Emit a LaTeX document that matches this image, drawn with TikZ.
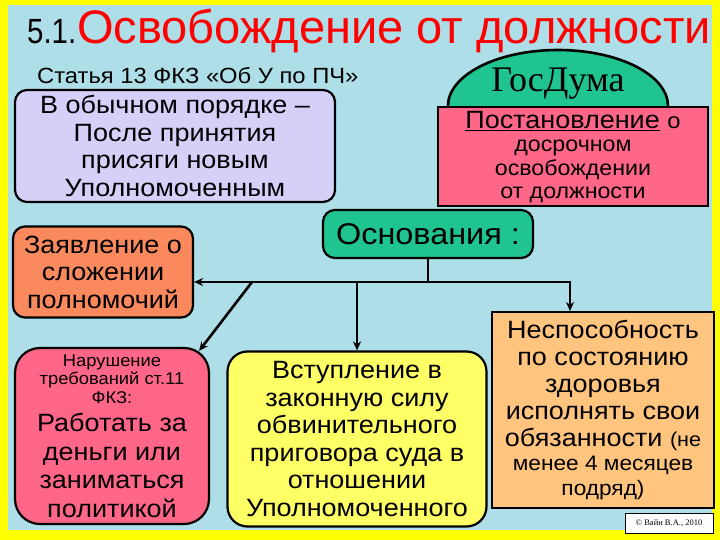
\documentclass[tikz,border=0pt]{standalone}
\usepackage{fontspec}
\setmainfont{Liberation Sans}[FakeStretch=1.08]
\newfontfamily\plainsans{Liberation Sans}
\newfontfamily\dumafont{Liberation Serif}
\usetikzlibrary{positioning,arrows.meta,shapes.geometric}
\definecolor{frameyellow}{HTML}{FFFF00}
\definecolor{waterblue}{HTML}{AEDEE8}
\definecolor{lavender}{HTML}{D4D0F8}
\definecolor{dumagreen}{HTML}{1FC490}
\definecolor{rosepink}{HTML}{FF6688}
\definecolor{salmon}{HTML}{FA8A5E}
\definecolor{lemon}{HTML}{FFFF66}
\definecolor{apricot}{HTML}{FFC47E}
\definecolor{titlered}{HTML}{FF0000}
\newcommand{\bigtxt}{\fontsize{25}{27.5}\selectfont}
\newcommand{\boxtext}[2]{\parbox{#1}{\centering #2}}

\begin{document}
\begin{tikzpicture}[
  x=1pt, y=-1pt,
  box/.style={draw, line width=2.2pt, rounded corners=12pt, align=center, inner sep=0pt},
  flat/.style={draw, line width=2pt, inner sep=0pt},
  big/.style={font=\bigtxt},
  arrow/.style={-{Stealth[length=9pt,width=8pt]}, line width=2.6pt}
]
\useasboundingbox (0,0) rectangle (720,540);
\fill[frameyellow] (0,0) rectangle (720,540);
\fill[waterblue] (8,5) rectangle (712,530);

% title
\node[anchor=base west, inner sep=0pt] (title) at (27,44)
  {\scalebox{0.84}[1]{\plainsans\fontsize{35}{35}\selectfont 5.1.}\hspace{1pt}{\color{titlered}\plainsans\fontsize{47}{47}\selectfont Освобождение от должности}};
\node[anchor=base west, inner sep=0pt, font=\fontsize{22}{22}\selectfont] (law) at (37,84)
  {Статья 13 ФКЗ «Об У по ПЧ»};

% left column
\node[box, big, fill=lavender, minimum width=320pt, minimum height=112pt] (usual) at (175,146)
  {В обычном порядке –\\После принятия\\присяги новым\\Уполномоченным};
\node[box, big, fill=salmon, minimum width=180pt, minimum height=91pt] (resign) at (103,272)
  {Заявление о\\сложении\\полномочий};

% GosDuma
\node[ellipse, draw, line width=2.6pt, fill=dumagreen, minimum width=220pt, minimum height=112pt] (duma) at (558,106) {};
\node[font=\dumafont\fontsize{36}{36}\selectfont] (dumatxt) at (558,84) {ГосДума};
\node[flat, fill=rosepink, minimum width=270pt, minimum height=99pt] (decree) at (573,157)
  {\boxtext{262pt}{\fontsize{25}{27}\selectfont\underline{Постановление} {\fontsize{22}{22}\selectfont о}\par
   \fontsize{21.5}{23.5}\selectfont досрочном\\освобождении\\от должности}};

% grounds
\node[box, fill=dumagreen, font=\fontsize{30}{30}\selectfont, minimum width=210pt, minimum height=48pt] (grounds) at (428,234)
  {Основания :};
\coordinate (hub) at (428,282);

\node[box, rounded corners=25pt, fill=rosepink, minimum width=194pt, minimum height=176pt] (breach) at (112,436)
  {\boxtext{190pt}{\fontsize{17}{18.5}\selectfont Нарушение\\требований ст.11\\ФКЗ:\par
   \fontsize{25}{28.5}\selectfont Работать за\\деньги или\\заниматься\\политикой}};
\node[box, big, rounded corners=20pt, fill=lemon, minimum width=259pt, minimum height=175pt] (verdict) at (357,439)
  {Вступление в\\законную силу\\обвинительного\\приговора суда в\\отношении\\Уполномоченного};
\node[flat, fill=apricot, minimum width=222pt, minimum height=196pt] (health) at (603,410)
  {\boxtext{218pt}{\fontsize{25}{27}\selectfont Неспособность\\по состоянию\\здоровья\\исполнять свои\\обязанности {\fontsize{20}{20}\selectfont(не}\par
   \fontsize{21}{24.5}\selectfont менее 4 месяцев\\подряд)}};

\node[draw, line width=0.6pt, fill=white, font=\dumafont\fontsize{8.5}{9}\selectfont, minimum width=88pt, minimum height=20pt, inner sep=0pt] (copy) at (669,523)
  {© Вайн В.А., 2010};

% connectors
\draw[line width=2.6pt] (grounds) -- (hub);
\draw[arrow] (hub) -- (hub -| resign.east);
\draw[arrow] (hub) -| ([xshift=-33pt]health.north);
\draw[arrow] (verdict.north |- hub) -- (verdict.north);
\draw[arrow] (252,282) -- ([xshift=-11pt,yshift=-4pt]breach.north east);
\end{tikzpicture}
\end{document}
